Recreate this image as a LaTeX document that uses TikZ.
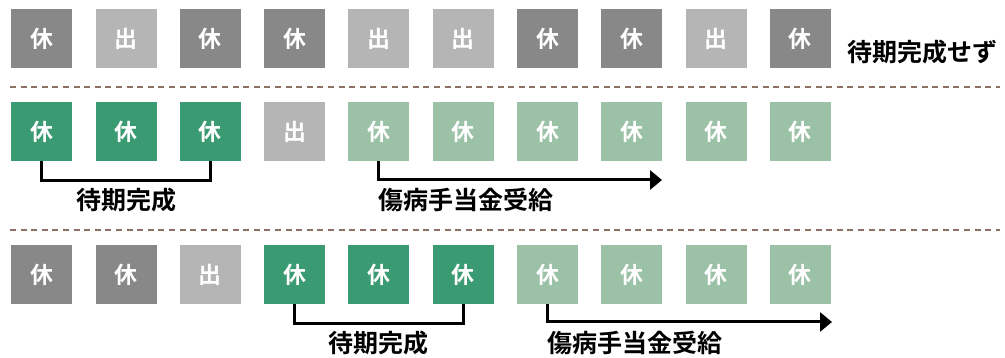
\documentclass[tikz,border=0pt]{standalone}
\usepackage{fontspec}
\setmainfont{Noto Sans CJK JP}[BoldFont={Noto Sans CJK JP Bold}]
\usetikzlibrary{arrows.meta}
\definecolor{dg}{HTML}{888888}
\definecolor{lg}{HTML}{B5B5B5}
\definecolor{gr}{HTML}{3A9A72}
\definecolor{lgr}{HTML}{9BC1A6}
\definecolor{dashc}{HTML}{8C7064}
\begin{document}
\begin{tikzpicture}[x=1pt,y=-1pt,
  box/.style={anchor=north west, minimum width=61pt, minimum height=59pt, inner sep=0pt,
    text=white, font=\fontsize{23}{23}\selectfont\bfseries},
  lbl/.style={inner sep=0pt, font=\fontsize{25}{25}\selectfont\bfseries, text=black},
  bracket/.style={line width=3pt, line join=miter, black},
  arr/.style={line width=3pt, line join=miter, black, -{Triangle[length=12pt,width=19pt]}},
  sep/.style={dashc, line width=1.3pt, dash pattern=on 6pt off 4.6pt}]
\useasboundingbox (0,0) rectangle (1005,358);
% row 1
\foreach \c/\t [count=\i from 0] in {dg/休,lg/出,dg/休,dg/休,lg/出,lg/出,dg/休,dg/休,lg/出,dg/休}
  \node[box, fill=\c] (a\i) at ({11+84.3*\i},9) {\t};
\node[lbl, anchor=west] (t0) at (847,52) {待期完成せず};
\draw[sep] (10,87) -- (1000,87);
% row 2
\foreach \c/\t [count=\i from 0] in {gr/休,gr/休,gr/休,lg/出,lgr/休,lgr/休,lgr/休,lgr/休,lgr/休,lgr/休}
  \node[box, fill=\c] (b\i) at ({11+84.3*\i},102) {\t};
\draw[bracket] (b0.south) -- ++(0,19) -| (b2.south);
\node[lbl] (l1) at (126,200) {待期完成};
\coordinate (e1) at (662,180);
\draw[arr] (b4.south) |- (e1);
\node[lbl, anchor=west] (l2) at (378,200) {傷病手当金受給};
\draw[sep] (10,230) -- (1000,230);
% row 3
\foreach \c/\t [count=\i from 0] in {dg/休,dg/休,lg/出,gr/休,gr/休,gr/休,lgr/休,lgr/休,lgr/休,lgr/休}
  \node[box, fill=\c] (c\i) at ({11+84.3*\i},245) {\t};
\draw[bracket] (c3.south) -- ++(0,19) -| (c5.south);
\node[lbl] (l3) at (378,343) {待期完成};
\coordinate (e2) at (832,322);
\draw[arr] (c6.south) |- (e2);
\node[lbl, anchor=west] (l4) at (547,343) {傷病手当金受給};
\end{tikzpicture}
\end{document}
